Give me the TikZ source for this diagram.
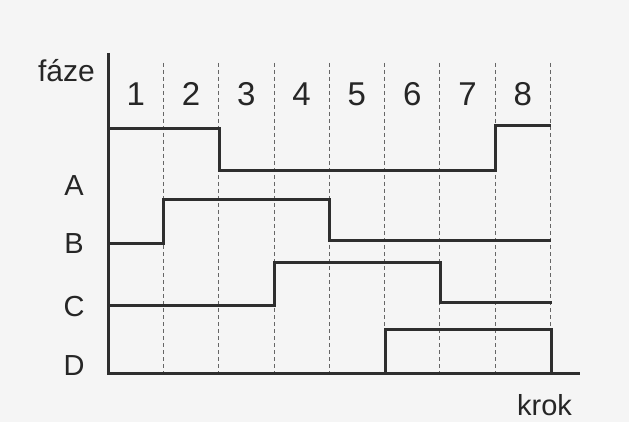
\documentclass[tikz,border=0pt]{standalone}
\usepackage{fontspec}
\setmainfont{Liberation Sans}
\begin{document}
\begin{tikzpicture}[x=1pt,y=-1pt,
  sig/.style={line width=3pt, draw=black!82, line join=miter},
  axisline/.style={line width=3pt, draw=black!82},
  grid/.style={line width=0.8pt, draw=black!60, dash pattern=on 4pt off 3pt},
  lbl/.style={font=\fontsize{29}{30}\selectfont, text=black!85, inner sep=0pt, anchor=base},
  num/.style={font=\fontsize{33}{34}\selectfont, text=black!85, inner sep=0pt, anchor=base}]
\fill[black!4] (0,0) rectangle (629,422);
\useasboundingbox (0,0) rectangle (629,422);
% dashed step boundaries
\foreach \k in {1,...,8}{
  \draw[grid] ({108+55.3*\k},63) -- ({108+55.3*\k},377);
}
% column numbers
\foreach \k in {1,...,8}{
  \node[num] (n\k) at ({108+55.3*\k-27.6},106) {\k};
}
% axes
\coordinate (top) at (108,53);
\coordinate (orig) at (108,373);
\coordinate (right) at (580,373);
\draw[axisline] (top) -- (orig) -- (right);
% labels
\node[lbl, font=\fontsize{30}{31}\selectfont] (faze) at (66.5,82) {fáze};
\node[lbl] (la) at (74,196) {A};
\node[lbl] (lb) at (74,253) {B};
\node[lbl] (lc) at (74,316) {C};
\node[lbl] (ld) at (74,375) {D};
\node[lbl] (krok) at (544.5,415) {krok};
% signals
\draw[sig] (108,129) -- (219,129) -- (219,171) -- (495,171) -- (495,126) -- (551,126);
\draw[sig] (108,243) -- (163,243) -- (163,200) -- (329,200) -- (329,240) -- (551,240);
\draw[sig] (108,305) -- (274,305) -- (274,262) -- (440,262) -- (440,302) -- (552,302);
\draw[sig] (385,373) -- (385,329) -- (551,329) -- (551,373);
\end{tikzpicture}
\end{document}
